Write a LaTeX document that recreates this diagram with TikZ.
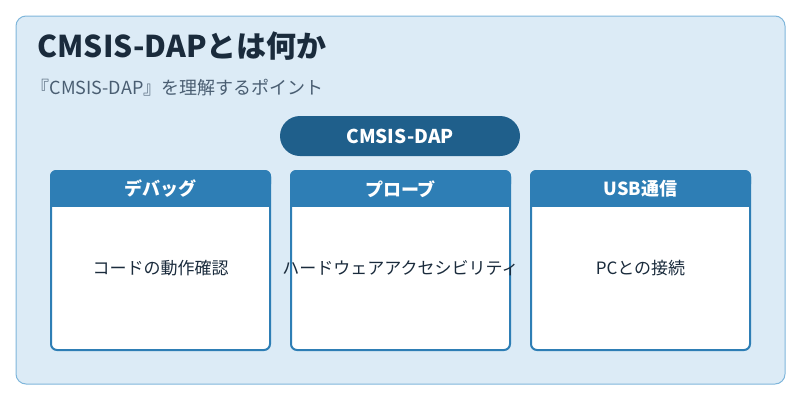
\documentclass[tikz,border=0pt]{standalone}
\usepackage{fontspec}
\setmainfont{Noto Sans CJK JP}
\begin{document}
\begin{tikzpicture}[x=1pt,y=-1pt,
 card/.style={draw=hdr,line width=2pt,fill=white,rounded corners=6pt},
 hd/.style={text=white,font=\fontsize{18}{20}\selectfont\bfseries},
 bd/.style={text=dark,font=\fontsize{17}{20}\selectfont}]
\definecolor{bg}{HTML}{DCEBF6}
\definecolor{bord}{HTML}{7FB6DB}
\definecolor{hdr}{HTML}{2E7EB5}
\definecolor{pill}{HTML}{1F5F8B}
\definecolor{dark}{HTML}{1A2B3C}
\definecolor{sub}{HTML}{4A5E72}
\useasboundingbox (0,0) rectangle (800,400);
\draw[fill=bg,draw=bord,line width=1pt,rounded corners=10pt] (16,16) rectangle (785,384);
\node[anchor=west,text=dark,font=\fontsize{30}{34}\selectfont\bfseries] (title) at (34,46) {CMSIS-DAPとは何か};
\node[anchor=west,text=sub,font=\fontsize{18}{20}\selectfont] (subt) at (28,88) {『CMSIS-DAP』を理解するポイント};
\node[fill=pill,rounded corners=20pt,minimum width=240pt,minimum height=40pt,text=white,font=\fontsize{19}{21}\selectfont\bfseries] (cm) at (400,136) {CMSIS-DAP};
\foreach \x/\h/\b/\n in {51/デバッグ/コードの動作確認/a,291/プローブ/ハードウェアアクセシビリティ/b,531/USB通信/PCとの接続/c}{
 \draw[card] (\x,171) rectangle ++(219,179);
 \fill[hdr,rounded corners=6pt] (\x-1,170) rectangle ++(221,20);
 \fill[hdr] (\x-1,182) rectangle ++(221,25);
 \node[hd] (h\n) at (\x+109.5,189) {\h};
 \node[bd] (t\n) at (\x+109.5,268) {\b};
}
\end{tikzpicture}
\end{document}
